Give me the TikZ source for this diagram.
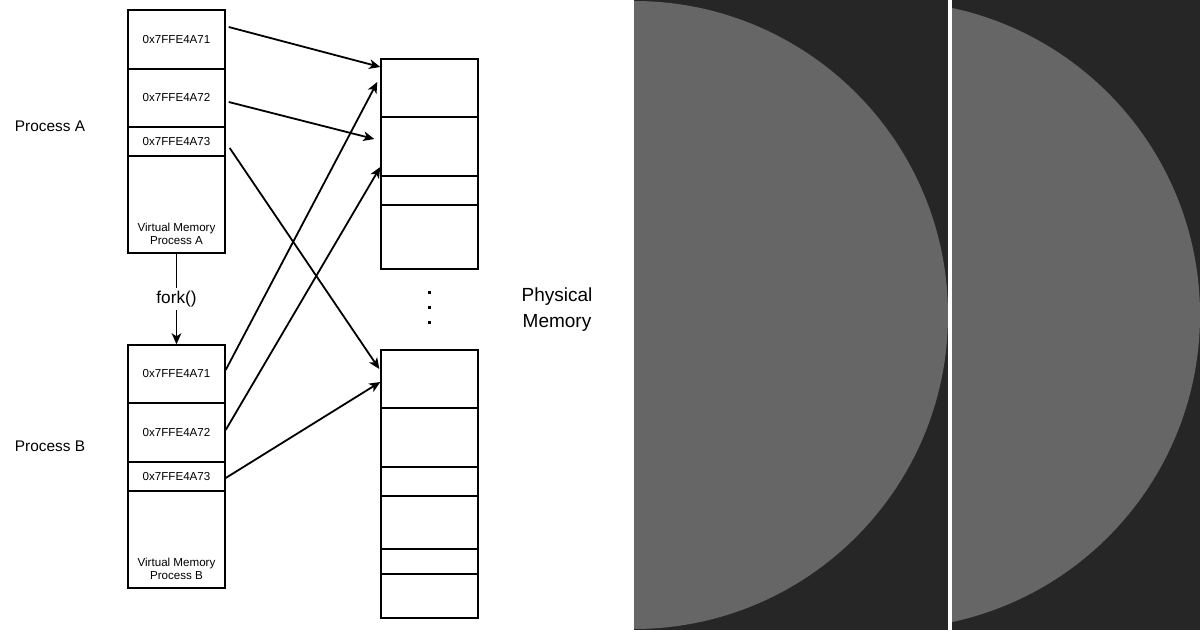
\documentclass[tikz,border=0pt]{standalone}
\usepackage{fontspec}
\setmainfont{Liberation Sans}
\usepackage{xcolor}
\usetikzlibrary{arrows.meta, positioning, calc}

\definecolor{panel}{HTML}{262626}
\definecolor{disc}{HTML}{666666}

\begin{document}
\begin{tikzpicture}[x=0.5pt, y=-0.5pt,
        cell/.style={rectangle, draw, line width=0.7pt, minimum width=48.5pt, inner sep=0pt, font=\fontsize{5.8}{7}\selectfont},
        vmtext/.style={inner sep=0pt, align=center, font=\fontsize{5.8}{6.2}\selectfont},
        side/.style={font=\fontsize{7.7}{9}\selectfont},
        arrow/.style={-{Stealth[length=5.5pt, width=4.8pt, inset=1.5pt]}, line width=0.9pt}
    ]
    \useasboundingbox (0,0) rectangle (1200,630);

    % Dark panel with the two discs
    \fill[panel] (634,0) rectangle (1200,630);
    \begin{scope}
        \clip (634,0) rectangle (948,630);
        \fill[disc] (634,315) circle[radius=157pt];
    \end{scope}
    \begin{scope}
        \clip (952,0) rectangle (1200,630);
        \fill[disc] (886,315) circle[radius=157pt];
    \end{scope}
    \fill[white] (948,0) rectangle (952,630);

    % Virtual memory of process A
    \node[cell, minimum height=29.5pt] (a1) at (176.5,39.5) {0x7FFE4A71};
    \node[cell, minimum height=29pt] (a2) at (176.5,98) {0x7FFE4A72};
    \node[cell, minimum height=14.5pt] (a3) at (176.5,141.5) {0x7FFE4A73};
    \node[cell, minimum height=48.5pt] (a4) at (176.5,204.5) {};
    \node[vmtext, above=4.5pt of a4.south] (a4text) {Virtual Memory\\Process A};

    % Virtual memory of process B
    \node[cell, minimum height=29pt] (b1) at (176.5,374) {0x7FFE4A71};
    \node[cell, minimum height=29.5pt] (b2) at (176.5,432.5) {0x7FFE4A72};
    \node[cell, minimum height=14.5pt] (b3) at (176.5,476.5) {0x7FFE4A73};
    \node[cell, minimum height=48.5pt] (b4) at (176.5,539.5) {};
    \node[vmtext, above=4.5pt of b4.south] (b4text) {Virtual Memory\\Process B};

    % Physical memory
    \node[cell, minimum height=29pt] (pa1) at (429.5,88) {};
    \node[cell, minimum height=29.5pt] (pa2) at (429.5,146.5) {};
    \node[cell, minimum height=14.5pt] (pa3) at (429.5,190.5) {};
    \node[cell, minimum height=32pt] (pa4) at (429.5,237) {};

    \node[cell, minimum height=29pt] (pb1) at (429.5,379) {};
    \node[cell, minimum height=29.5pt] (pb2) at (429.5,437.5) {};
    \node[cell, minimum height=14.5pt] (pb3) at (429.5,481.5) {};
    \node[cell, minimum height=26.5pt] (pb4) at (429.5,522.5) {};
    \node[cell, minimum height=12.5pt] (pb5) at (429.5,561.5) {};
    \node[cell, minimum height=22pt] (pb6) at (429.5,596) {};

    \foreach \y in {293,308,323}
        \fill (428,\y-1.5) rectangle +(3,3);

    % Labels
    \node[side] (procA) at (50,126) {Process A};
    \node[side] (procB) at (50,446) {Process B};
    \node[align=center, font=\fontsize{9.5}{13}\selectfont] (phys) at (557,310) {Physical\\Memory};

    % Mappings
    \draw[arrow] (a4) -- node[fill=white, inner sep=1.5pt, font=\fontsize{8.6}{10}\selectfont] (fork) {fork()} (b1);

    \draw[arrow] ($(a1.east)+(3,-12.5)$) -- ($(pa1.west)+(0,-21)$);
    \draw[arrow] ($(a2.east)+(3,4)$) -- ($(pa2.west)+(-6,-7.5)$);
    \draw[arrow] ($(a3.east)+(4,6.5)$) -- ($(pb1.west)+(-1,-10)$);

    \draw[arrow] ($(b1.east)+(0,-4)$) -- ($(pa1.west)+(-3,-6)$);
    \draw[arrow] ($(b2.east)+(0,-2.5)$) -- ($(pa2.west)+(0,20.5)$);
    \draw[arrow] ($(b3.east)+(0,1.5)$) -- ($(pb1.west)+(0,3)$);

\end{tikzpicture}
\end{document}
